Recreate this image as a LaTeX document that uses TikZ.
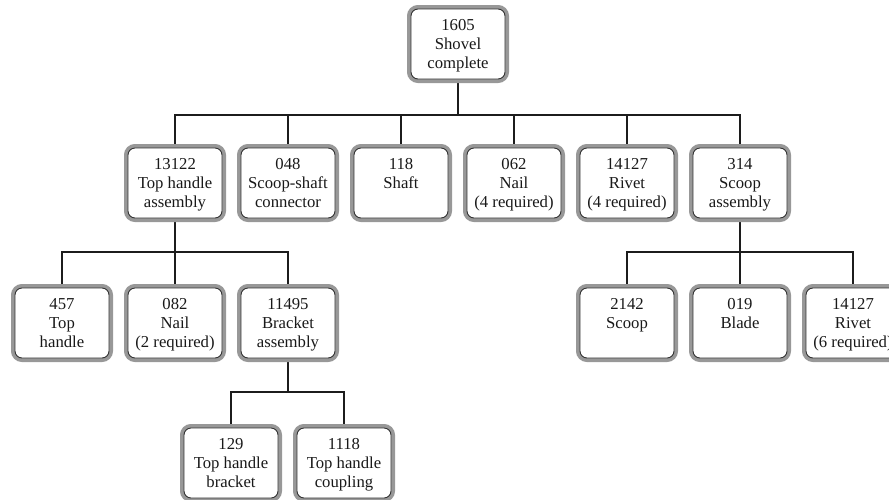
\documentclass[tikz,border=0pt]{standalone}
\usepackage{fontspec}
\setmainfont{Liberation Serif}
\usetikzlibrary{backgrounds}
\definecolor{bandgray}{RGB}{152,152,152}
\definecolor{rimdark}{RGB}{50,50,50}
\definecolor{linkdark}{RGB}{28,28,28}
% three centred lines, with extra room above so they sit a little low
\newcommand\partlines[1]{\raisebox{0pt}[\dimexpr\height+4pt\relax][\depth]{\begin{tabular}{@{}c@{}}#1\end{tabular}}}
\begin{document}
\begin{tikzpicture}[x=1pt,y=-1pt,
  part/.style={draw=rimdark, line width=0.9pt, fill=white, rounded corners=7pt,
    preaction={draw=bandgray, line width=8pt},
    minimum width=94pt, minimum height=70pt, inner sep=0pt,
    font=\fontsize{16.7}{19}\selectfont, text=black!90},
  link/.style={draw=linkdark, line width=2.8pt}]
\useasboundingbox (0,0) rectangle (889,499);

% top level
\node[part] (p1605) at (458,44) {\partlines{1605\\Shovel\\complete}};

% first level
\node[part] (p13122) at (175,183) {\partlines{13122\\Top handle\\assembly}};
\node[part] (p048)   at (288,183) {\partlines{048\\Scoop-shaft\\connector}};
\node[part] (p118)   at (401,183) {\partlines{118\\Shaft\\~}};
\node[part] (p062)   at (514,183) {\partlines{062\\Nail\\(4 required)}};
\node[part] (p14127a) at (627,183) {\partlines{14127\\Rivet\\(4 required)}};
\node[part] (p314)   at (740,183) {\partlines{314\\Scoop\\assembly}};

% second level
\node[part] (p457)   at (62,323)  {\partlines{457\\Top\\handle}};
\node[part] (p082)   at (175,323) {\partlines{082\\Nail\\(2 required)}};
\node[part] (p11495) at (288,323) {\partlines{11495\\Bracket\\assembly}};
\node[part] (p2142)  at (627,323) {\partlines{2142\\Scoop\\~}};
\node[part] (p019)   at (740,323) {\partlines{019\\Blade\\~}};
\node[part] (p14127b) at (853,323) {\partlines{14127\\Rivet\\(6 required)}};

% third level
\node[part] (p129)  at (231,463) {\partlines{129\\Top handle\\bracket}};
\node[part] (p1118) at (344,463) {\partlines{1118\\Top handle\\coupling}};

% bar heights
\coordinate (barA) at (0,115);
\coordinate (barB) at (0,252);
\coordinate (barC) at (0,392);

\begin{scope}[on background layer]
  \foreach \c in {p13122,p048,p118,p062,p14127a,p314}
    \draw[link] (p1605.south) -- (p1605.south |- barA) -| (\c.north);
  \foreach \c in {p457,p082,p11495}
    \draw[link] (p13122.south) -- (p13122.south |- barB) -| (\c.north);
  \foreach \c in {p2142,p019,p14127b}
    \draw[link] (p314.south) -- (p314.south |- barB) -| (\c.north);
  \foreach \c in {p129,p1118}
    \draw[link] (p11495.south) -- (p11495.south |- barC) -| (\c.north);
\end{scope}
\end{tikzpicture}
\end{document}
